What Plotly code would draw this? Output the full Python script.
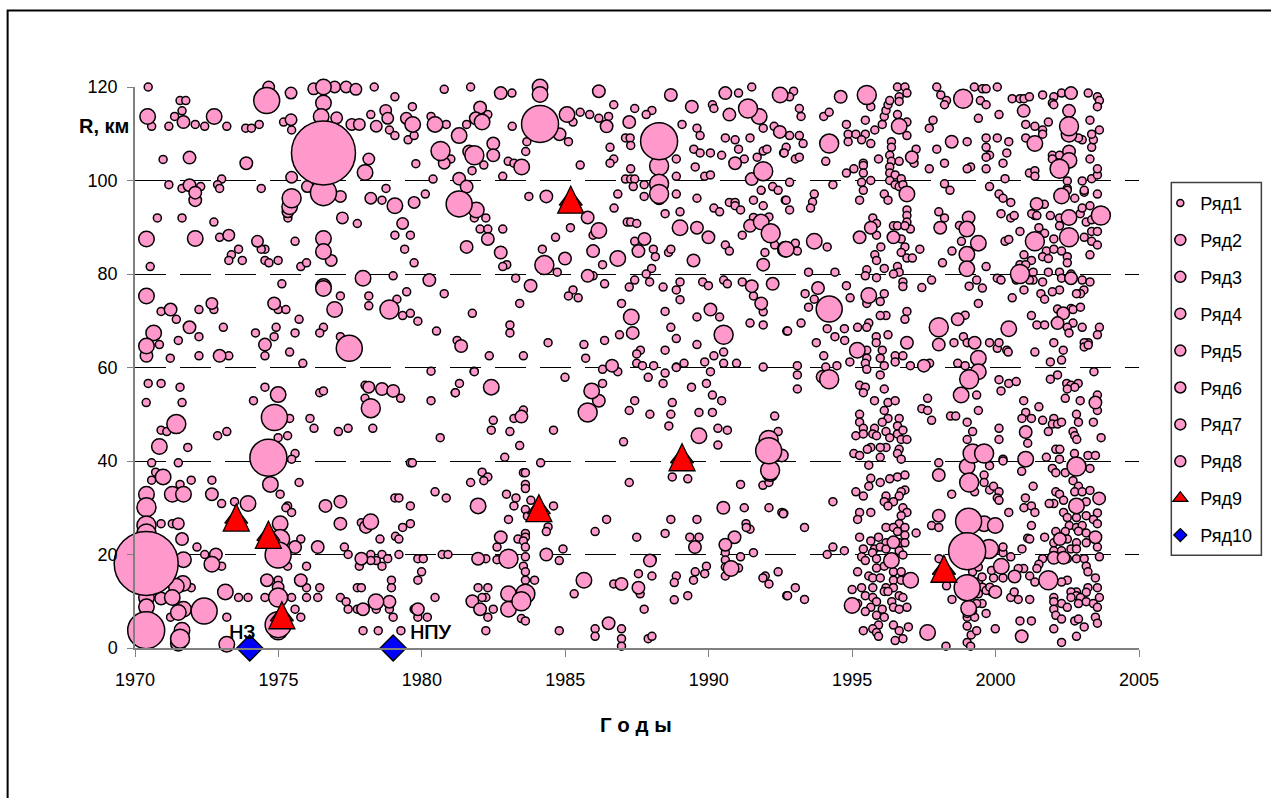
import plotly.graph_objects as go

# (year, R km)
ryad1 = [
(1970.46,120),(1970.58,111.6),(1971.18,111.6),(1971.38,113.7),(1971.57,117.1),(1971.77,117.1),(1971.64,114.9),(1972.10,112),(1972.43,111.6),(1973.2,111.6),(1973.86,111.2),(1974.06,111.2),(1974.33,112),(1975.18,112.5),(1975.46,110.8),(1979.06,117.9),(1978.34,120),(1980.78,119.5),(1979.67,115.8),(1978.22,114.1),(1978.87,110.8),(1979.06,109.6),(1979.52,108.7),(1979.73,109.6),(1980.32,113.7),(1980.85,112),(1969.99,103.6),(1970.98,104.5),(1979.79,103.6),(1971.18,99.1),(1971.64,98.3),(1972.29,98.7),(1973.02,100.3),(1972.88,99.1),(1972.95,98.3),(1974.4,98.3),(1978.75,98.3),(1978.61,95.8),(1980.39,100.3),(1980.12,97.1),(1970.78,92),(1971.64,92),(1972.75,91.1),(1975.33,92),(1977.75,90.8),(1972.95,87.85),(1979.06,88.3),(1979.6,88.3),(1973.61,85.3),(1973.36,84.1),(1974.53,85.3),(1974.4,85.3),(1975.58,87),(1979.4,85.3),(1973.27,82.9),(1973.74,82.9),(1974.53,82.9),(1974.67,82.4),(1974.99,82.9),(1975.78,81.6),(1975.98,82.4),(1970.53,81.6),(1979.73,82.4),(1979.0,79.6),(1975.12,77.9),(1977.16,75.3),(1978.15,75.3),(1978.15,73.2),(1979.47,76.2),(1979.13,74.6),(1980.78,75.8),(1970.91,72),(1971.44,70.3),(1972.23,72.4),(1972.75,72.4),(1974.99,72.4),(1975.26,72.4),(1975.72,70.3),(1979.33,71.1),(1979.6,71.6),(1979.86,69.9),(1980.51,67.8),(1973.08,68.6),(1974.92,68.6),(1976.57,68.6),(1974.2,67.4),(1975.58,67.4),(1976.44,67.4),(1974.85,66.6),(1972.23,66.6),(1971.51,65.8),(1970.85,64.9),(1977.16,66.6),(1971.23,62),(1972.23,62.5),(1973.27,62.5),(1974.53,62.5),(1975.39,63.3),(1975.85,60.9),(1980.32,59.2),
(1970.46,56.6),(1970.91,56.6),(1971.57,55.8),(1974.53,55.8),(1970.39,52.5),(1971.64,52.5),(1974.13,52.9),(1976.44,54.6),(1976.57,55),(1978.02,56.2),(1981.16,54.6),(1978.02,53.4),(1979.26,53.4),(1980.32,52.9),(1976.1,49.1),(1975.39,49.1),(1970.91,46.6),(1971.11,46.3),(1972.88,45.4),(1973.2,46.3),(1976.24,47),(1977.09,46.3),(1977.43,47),(1978.29,47),(1980.64,45),(1974.99,45),(1975.32,45.4),(1971.84,42.9),(1975.58,41.6),(1975.46,40.4),(1970.58,39.6),(1971.51,39.6),(1979.6,39.6),(1979.67,39.6),(1970.72,37.6),(1970.58,35.9),(1971.96,35.9),(1972.68,35.9),(1975.72,35.4),(1971.57,35),(1969.99,33.8),(1975.06,32.9),(1980.46,33.4),(1980.85,32.1),(1979.06,32.1),(1979.2,32.1),(1973.02,30.9),(1973.47,31.3),(1975.32,30.4),(1975.26,30),(1979.6,30.4),(1975.46,29),(1970.91,26.6),(1971.3,26.6),(1977.89,26.8),(1979.6,26.6),(1979.33,25.8),(1979.08,23.9),(1979.2,23.3),(1978.54,23.3),(1977.3,21.6),(1975.78,23.3),(1972.16,21.6),(1977.43,20),(1979.2,20),(1979.86,19.1),(1980.05,19.1),(1980.71,20),(1980.91,20),(1972.43,20),(1978.22,20),(1978.61,20),(1978.81,19.1),(1978.41,18.7),(1978.22,18.7),(1977.82,17.5),(1978.61,17.5),(1973.02,17.5),(1975.32,17.5),(1975.98,17.5),(1979.99,16.3),(1979.86,14.5),(1978.94,14.5),(1974.99,14.5),(1978.94,12.9),(1975.98,12.9),(1976.44,12.9),(1977.75,12.9),(1977.89,12.9),(1971.96,12.9),(1973.61,10.8),(1973.94,10.8),(1974.53,10.8),(1975.46,10.8),(1975.98,10.8),(1976.37,10.8),(1977.16,10.8),(1980.46,10.8),(1977.36,9.9),(1977.43,8.3),(1977.75,8.3),(1975.58,8.3),(1978.41,8.3),(1978.87,8.3),(1979.73,8.3),(1975.78,6.6),(1973.2,6.6),(1971.24,6.6),(1979.86,6.6),(1980.19,6.6),(1979,6.6),(1977.95,3.7),(1978.48,3.7),(1979.27,3.7),(1970.4,0.6),
(1981.7,120),(1983.14,118.7),(1986.69,116.2),(1987.42,115.4),(1988.02,115),(1987.82,114.1),(1985.52,114.6),(1985.85,114.1),(1986.17,113.3),(1986.51,113.7),(1985.27,112.5),(1983.15,111.6),(1981.56,112),(1982.3,114.1),(1991.5,120),(1991.04,118.7),(1990.13,116.2),(1990.18,115.4),(1989.07,112),(1989.59,111.2),(1989.7,109.6),(1990.58,109.1),(1990.92,108.7),(1991.44,109.1),(1991.9,111.2),(1992.28,111.6),(1987.1,109.1),(1987.26,109.1),(1987.28,107.5),(1986.56,107.1),(1989.48,106.7),(1989.7,105.9),(1990.06,105.9),(1990.45,105.4),(1991.04,106.7),(1991.69,105),(1991.9,106.3),(1992.03,106.7),(1992.61,105.9),(1988.87,104.6),(1991.24,104.6),(1989.53,102.9),(1986.69,104.6),(1986.56,103.7),(1985.52,103.3),(1985.11,108.3),(1983.62,106.2),(1983.66,108.3),(1983.01,104.1),(1983.21,103.7),(1982.16,103.3),(1981.75,102.1),(1981.01,104.6),(1982.82,100.9),(1987.28,102.5),(1987.1,100.3),(1987.28,100.3),(1987.42,100.3),(1988.87,100.9),(1989.86,100.9),(1990.06,101.2),(1987.75,99.1),(1987.37,98.7),(1987.75,96.6),(1986.83,97.1),(1988.87,97.1),(1989.59,96.2),(1983.73,96.6),(1992.23,98.7),(1991.83,97.9),(1992.42,97.9),(1991.56,95.8),(1992.67,95.8),(1986.7,94.1),(1988.48,92.9),(1989,93.3),(1990.18,94.1),(1990.38,93.3),(1990.72,95.3),(1990.92,95.3),(1990.92,94.6),(1991.11,93.7),(1991.9,94.6),(1992.1,92.2),(1991.56,92.1),(1982.23,92),(1981.83,92),(1982.03,89.6),(1982.3,89.6),(1982.82,89.6),(1985.18,89.9),(1987.16,91.1),(1987.28,91.1),(1987.49,90.8),(1984.66,87.85),(1985.97,88.3),(1991.17,88.3),(1987.42,87),(1984.2,85.3),(1988.07,85.3),(1988.6,84.6),(1988.68,85.3),(1988.14,83.7),(1990.58,86.2),(1990.72,84.9),(1991.96,84.6),(1992.3,86.2),(1986.3,82),(1982.96,82),(1982.82,81.6),(1988.01,81.2),(1987.82,80),(1984.72,80.4),(1985.97,79.6),(1983.27,79.1),(1986.37,77.9),(1987.42,78.7),(1987.94,78.3),(1987.23,77.2),(1988.41,77.2),(1989,78.3),(1988.87,76.6),(1989,74.5),(1989.79,78.3),(1989.99,77.5),(1990.52,78.7),(1990.65,77.9),(1991.17,78.3),(1991.56,75.3),(1985.27,76.6),(1985.11,75.3),(1985.45,74.9),(1983.41,73.7),(1986.96,73.7),(1988.48,72),(1991.9,71.9),(1981.76,71.6),(1989.59,70.8),(1990.38,70.8),(1983.07,69.1),(1983.07,67.4),(1988.68,68.6),(1991.44,69.5),(1991.9,69.1),(1992.72,67.8),(1986.89,67),(1988.87,66.2),(1981.23,65.8),(1984.4,65.3),(1985.65,64.9),(1986.37,65.8),(1989.59,64.9),(1988.48,63.7),(1987.62,63.7),(1987.49,62.9),(1990.52,63.3),(1990.18,62.5),(1982.35,62.5),(1983.54,62.5),(1985.71,62),(1989.86,61.2),(1990.52,60.9),(1990.97,60.9),(1989.14,60.9),(1988.87,60.1),(1988.08,60.4),(1987.49,60.9),(1987.69,60.4),(1991.9,60.1),(1986.3,59.6),(1981.82,59.2),
(1981.83,59.1),(1981.31,56.6),(1981.17,54.6),(1984.99,57.9),(1986.3,56.6),(1986.83,59.1),(1987.89,57.9),(1988.41,56.6),(1988.48,58.8),(1988.87,60),(1990.06,59.1),(1989.4,55.8),(1989.92,56.6),(1990.13,54.1),(1990.45,52.9),(1987.42,52.9),(1987.23,50.8),(1987.95,50),(1988.73,52.5),(1988.68,50),(1989.66,50.4),(1990.13,50.4),(1988.61,47.5),(1990.32,47),(1990.65,46.6),(1992.3,49.6),(1992.42,46.3),(1990.32,43.4),(1987.03,44.1),(1982.49,48.7),(1983.21,49.1),(1983.54,50.9),(1982.42,46.6),(1983.07,46.3),(1984.59,46.6),(1983.41,43.3),(1982.89,40.8),(1984.14,39.6),(1982.1,37.6),(1982.3,36.6),(1982.16,35.8),(1981.7,35.4),(1983.54,37.5),(1983.61,37.5),(1983.61,35),(1983.61,34.1),(1987.23,35.4),(1988.73,36.6),(1989.27,36.2),(1991.11,35),(1991.89,34.8),(1992.1,35.4),(1982.95,32.9),(1983.28,32.1),(1983.8,31.6),(1983.21,30.4),(1983.61,29.6),(1984.59,30.4),(1983.68,28.2),(1983.02,27.5),(1991.24,30),(1992.1,30),(1992.55,29),(1992.62,28.8),(1986.44,27.5),(1988.68,27.5),(1989.59,27.5),(1984.4,25.9),(1984.34,24.9),(1986.04,24.9),(1983.61,24.5),(1988.48,24.5),(1987.49,23.7),(1989.34,23.7),(1989.66,23.7),(1991.3,26.6),(1991.44,25.4),(1991.31,25.8),(1983.61,23.7),(1983.35,23.3),(1983.54,22.9),(1982.62,21.6),(1983.61,21.6),(1984.92,21.2),(1982.23,19.1),(1982.62,18.9),(1983.61,19.5),(1984.79,18.7),(1983.54,17.5),(1983.61,16.3),(1983.61,14.5),(1983.93,14.5),(1991.56,20.4),(1991.11,19.5),(1990.58,20.4),(1990.58,18.8),(1990.58,17.3),(1990.58,15.4),(1991.04,17.1),(1989.92,17.5),(1989.86,15.9),(1989.53,16.3),(1989.47,14.5),(1988.87,15.4),(1988.8,14),(1987.55,15.9),(1988.02,15.4),(1988.03,19),(1986.69,13.7),(1985.31,11.6),(1987.61,11.6),(1988.8,10.3),(1989.27,11.2),(1987.75,8.3),(1991.97,15.4),(1991.89,15),(1992.1,13.7),(1992.42,16.3),(1992.72,11.2),(1981.96,12.9),(1982.3,12.9),(1982.23,10.8),(1982.1,10.8),(1982.49,8.3),(1982.3,6.6),(1982.23,3.7),(1983.47,6.3),(1983.61,5.8),(1984.79,3.7),(1986.04,4.1),(1986.04,2.5),(1986.96,4.1),(1986.96,2),(1986.96,0.4),(1987.89,2),(1988.02,2.5),
(1992.96,119.1),(1992.82,117.9),(1993.16,115.4),(1993.22,113.7),(1994.01,113.7),(1994.2,114.6),(1995.65,115.8),(1995.46,112.9),(1994.8,112),(1992.82,109.6),(1993.16,109.6),(1993.29,107.9),(1992.7,107.1),(1992.63,105.9),(1993.02,104.6),(1993.16,105),(1994.08,104.1),(1994.86,109.9),(1995.13,109.9),(1995.46,109.9),(1994.86,108.3),(1995.33,108.7),(1995.65,107.9),(1995.79,110.8),(1996.05,112),(1996.12,113.7),(1996.18,115),(1996.25,116.2),(1996.31,117.1),(1996.58,120),(1996.84,120),(1996.91,118.7),(1996.64,117.9),(1996.64,116.9),(1996.58,114.1),(1996.91,112.5),(1996.91,109.6),(1996.37,108.3),(1996.37,107.1),(1996.31,105.4),(1996.37,104.1),(1996.64,104.1),(1995.92,104.6),(1997.23,106.7),(1997.16,103.7),(1995.39,103.7),(1995.39,103.2),(1995.06,102.5),(1994.8,101.6),(1995.39,101.6),(1995.65,100),(1996.31,102.9),(1996.31,101.6),(1996.5,101.2),(1996.71,100.4),(1996.31,100),(1995.33,99.6),(1994.33,99.1),(1992.82,99.6),(1996.5,99.1),(1996.64,98.7),(1996.77,99.1),(1995.39,97.9),(1996.12,97.1),(1996.25,95.8),(1995.26,95.8),(1993.68,97.1),(1992.7,95.8),(1993.62,95.4),(1993.55,94.1),(1992.82,93.7),(1996.91,93.7),(1996.91,92.5),(1996.91,91.1),(1997.03,89.6),(1995.72,92),(1995.85,90.8),(1995.85,88.3),(1996.44,90.3),(1996.58,90.3),(1996.84,90.3),(1996.71,87.5),(1996.84,85.8),(1996.71,84.6),(1996,85.8),(1997.36,85.3),(1996.91,83.4),(1997.1,83.4),(1995.79,84.1),(1995.85,82.9),(1996.12,81.2),(1996.58,81.6),(1996.64,80.4),(1996.44,80),(1995.51,80.9),(1995.46,79.6),(1995.85,79.2),(1993.48,80.4),(1994.4,80.4),(1993.02,86.6),(1993.09,84.9),(1994.13,85.8),(1994.8,77.5),(1993.36,75.8),(1993.68,74.6),(1993.48,72.9),(1994.93,74.9),(1996.12,75.8),(1995.98,74.1),(1995.51,73.7),(1996.77,78.3),(1996.77,77.3),(1997.43,77.1),(1997.77,78.7),(1996.91,72),(1996.84,70.3),(1996.18,71.1),(1995.98,71.1),(1995.58,69.5),(1995.51,68.6),(1995.19,68.6),(1994.73,68.3),(1993.22,69.5),(1992.75,67.8),(1994.13,68.3),(1994.74,65.8),(1994.4,66.6),(1993.75,65.3),(1994.01,62.5),(1996.25,67),(1995.84,66.6),(1995.84,65.3),(1996.05,63.7),(1995.51,63.7),(1995.51,62),(1995.46,60.9),(1995.98,62),(1996.12,60.4),(1996.5,62.5),(1996.77,62.5),(1996.5,61.2),(1994.92,61.2),(1994.47,60.4),(1994.08,60.1),(1993.09,60.4),(1997.03,60.4),(1997.7,60.9),
(1997.95,120),(1998.09,118.3),(1998.29,117.1),(1998.22,116.2),(1997.82,112.9),(1997.69,111.2),(1997.95,106.7),(1998.22,103.7),(1997.69,102.5),(1998.22,99.3),(1998.41,97.9),(1998.02,93.3),(1998.22,92),(1998.74,90.4),(1998.81,87),(1998.48,84.9),(1998.15,82.4),(1999.67,81.6),(1999.34,78.7),(1999.08,77.4),(1999.54,77),(1999.4,73.7),(1998.94,71.2),(1998.55,65.3),(1998.88,66.6),(1999.01,65.3),(1999.79,65.3),(2000.06,64.1),(2000.39,63.7),(2000.44,63.3),(2000.12,65.3),(1998.68,60.9),(1998.94,60.4),(1999.26,120),(1999.54,119.6),(1999.67,119.6),(2000.06,120),(1999.47,117.1),(1999.67,116.2),(2000.12,114.1),(1999.4,113.3),(2000.58,117.5),(2000.85,117.5),(2000.99,117.5),(2001.18,117.9),(2001.64,118.3),(2002.03,117.9),(2001.98,116.6),(2002.03,116.2),(2002.3,118.7),(2003.23,118.7),(2003.55,117.9),(2003.62,117.1),(2003.55,115.8),(2003.29,112.9),(2003.62,110.8),(2001.84,112.5),(2001.05,112),(2001.37,111.6),(2001.64,110.8),(2001.64,109.9),(2001.05,109.1),(2000.46,108.3),(2000.06,109.1),(1999.67,109.1),(1999.01,108.3),(1999.67,107.1),(2000.39,105.9),(1999.79,105.4),(1999.67,105),(2000.26,103.7),(1999.13,102.9),(1999.01,102.5),(1999.67,102.5),(2001.18,101.6),(2001.37,102.1),(2001.37,100.9),(2000.33,100.4),(1999.79,98.7),(2000.12,97.1),(2000.26,96.2),(2000.53,95.3),(2000.19,92.9),(2000.53,92),(2000.65,92.5),(2000.85,89.1),(2000.33,87),(2000.46,87.4),(2000.99,84.1),(2001.25,82.9),(2000.85,82),(2001.05,82),(2001.31,80.4),(2001.31,78.7),(2001.18,78.7),(2000.06,79.1),(2000.19,78.7),(2000.72,78.7),(2001.64,78.3),(2001.84,80.4),(2002.23,80.4),(2002.3,79.1),(2002.63,80),(2003.02,78.7),(2003.29,78.3),(2003.08,76.6),(2002.96,75.8),(2002.82,75.8),(2002.23,76.6),(2001.98,76.2),(2001.58,75.8),(2001.71,74.6),(2000.99,76.6),(2000.58,74.9),(2001.25,71.1),(2002.16,72.5),(2002.63,72.6),(2002.7,72.4),(2002.96,72.9),(2001.44,69.1),(2001.71,69.1),(2002.7,69.5),(2002.5,68.6),(2002.56,67.4),(2003.02,68.6),(2003.62,68.6),(2003.55,67),(2002.03,65.3),(2002.36,63.7),(2001.37,63.3),(2001.91,61.2),(2002.3,61.6),(2003.23,65.3),(2003.09,65.3),(2003.09,64.4),(2003.23,64.8),(2001.91,92.5),(2002.23,92),(2002.23,90.3),(2001.51,89.9),(2001.71,88.7),(2002.03,87.5),(2001.77,84.9),(2001.64,83.7),(2001.84,83.3),(2002.03,85.3),(2002.3,84.9),(2002.5,83.7),(2002.5,82.4),(2003.29,84.1),(2003.09,87.85),(2003.35,87),(2003.55,86.2),(2003.35,89.1),(2003.55,89.1),(2002.95,92.9),(2003.02,94.1),(2003.29,94.6),(2003.16,91.1),(2003.35,91.6),(2002.76,96.2),(2003.09,97.5),(2003.09,97.9),(2003.55,97.1),(2003.02,99.9),(2003.35,100.4),(2003.55,101.2),(2003.55,102.5),(2002.5,99.9),(2002.5,98.3),(2002.5,97.9),(2003.29,104.6),(2003.35,107.1),(2003.41,108.7),(2003.35,109.9),(2003.02,108.7),(2002.89,109.1),(2001.98,105.4),(2002.23,105.4),(2001.98,104.6),(2001.37,92.5),(2001.7,94.9),(2001.26,92.9),(2001.44,92.5),
(1993.09,58.4),(1993.09,55.4),(1995.26,56.2),(1995.46,55.8),(1995.39,54.6),(1996.12,55.4),(1995.51,59.6),(1995.98,58.4),(1995.78,52.9),(1996.25,52.5),(1996.5,52.9),(1996.12,50.8),(1995.26,50),(1995.26,48.3),(1996.25,49.1),(1996.05,48.3),(1996.64,49.1),(1996.58,47.5),(1995.39,47),(1995.78,47),(1995.13,45.4),(1995.39,45.8),(1995.72,45.8),(1995.85,45.4),(1996.18,46.3),(1996.31,45),(1996.58,45.8),(1996.77,46.6),(1996.71,44.6),(1996.91,44.6),(1996.64,42.5),(1996.58,41.6),(1996.71,40.4),(1996.18,42.9),(1995.98,42.9),(1995.65,42.9),(1995.53,42.5),(1995.06,41.6),(1995.26,41.2),(1995.98,40.8),(1995.58,39.1),(1995.65,36.3),(1995.58,34.6),(1995.98,35.4),(1996.31,36.2),(1996.58,36.6),(1996.84,37),(1996.84,33.8),(1996.71,33.4),(1995.13,33.4),(1995.39,32.5),(1996.18,32.5),(1996.64,32.5),(1996.44,31.3),(1996.12,31.3),(1996.25,30.4),(1996.77,30),(1996.91,29),(1996.71,28.3),(1995.26,29),(1995.65,29),(1995.19,27.5),(1996.64,26.6),(1996.18,25.8),(1996.84,25.8),(1996.44,25.8),(1997.23,24.6),(1996.58,24.9),(1996.84,24.1),(1995.92,23.7),(1995.26,23.7),(1995.65,22.9),(1996.18,22.5),(1996.64,22.5),(1996.84,22.5),(1995.39,21.2),(1995.78,21.2),(1995.98,21.6),(1996.18,21.2),(1996.64,20.8),(1995.71,20.4),(1996.77,19.9),(1995.33,19.5),(1995.85,19.1),(1995.46,18.7),(1996.12,17.5),(1995.85,17.1),(1995.19,16.3),(1996.44,16.3),(1996.71,16.3),(1995.58,15.4),(1995.72,15),(1995.98,15),(1996.44,14.5),(1996.71,14.5),(1995,12.5),(1995.33,12.9),(1995.72,12.9),(1996.18,12.9),(1996.44,12.9),(1995.46,11.2),(1995.72,10.8),(1996.12,12.1),(1996.25,12.1),(1996.64,11.2),(1996.77,10.8),(1995.85,9.9),(1996.38,9.9),(1995.19,9.5),(1995.65,8.7),(1996.44,8.7),(1996.91,8.7),(1996.64,8.3),(1995.46,7.8),(1996.05,8.3),(1995.85,7),(1996.12,6.6),(1995.92,4.9),(1996.44,4.9),(1996.96,4.5),(1995.39,3.7),(1995.72,4.1),(1996.64,3.7),(1995.85,3.3),(1995.92,2.5),(1996.77,2),(1996.5,1.6),(1994.13,20),(1994.33,21.6),(1994.73,20.8),(1993.34,25.8),(1994.33,31.3),(1992.6,28.7),(1993.02,12.9),(1992.75,11.2),(1993.34,10.4),
(1997.63,53.4),(1997.43,51.2),(1997.63,50.8),(1997.77,48.7),(1998.43,49.6),(1998.61,49.6),(1999.01,48.3),(1999.2,46.3),(1999.4,50.8),(1999.34,54.1),(1999.01,44.6),(1998.02,39.6),(1998.47,32.9),(1997.77,26.2),(1998.02,25.8),(1998.03,19.1),(1998.29,13.3),(1998.48,10.4),(1998.27,0.4),(1999.01,1.2),(1999.13,0.4),(1999.15,2.8),(1999.01,4.7),(1999.34,3.7),(1999.01,6.6),(1999.27,6.6),(1999.67,7.4),(1999.53,9.5),(1999.86,12),(1999.6,37),(1999.6,35.4),(1999.27,33.4),(1999.79,33.8),(1999.93,34.6),(2000.12,33.4),(2000.06,32.1),(2000.12,31.6),(1999.79,39),(2000.26,40.4),(2000.26,40),(2000.91,37.8),(2000.46,29),(2000.99,30),(2001.25,30.4),(2001.37,29),(2001.04,32.1),(2001.31,34.6),(2001.25,26.2),(2001.12,23.5),(2001.19,23.3),(2000.92,21.2),(2000.12,57.4),(2000.19,55),(2000.46,56.6),(2000.72,57),(2001.91,57.5),(2002.16,58.4),(2003.43,59.1),(2000.98,52.9),(2001.51,51.6),(2001.05,50.4),(2000.92,49.1),(2001.25,49.1),(2001.64,48.7),(2002.03,49.1),(2001.98,47.9),(2002.16,47.9),(2002.3,48.3),(2001.84,46.3),(2000.12,47),(2000.12,44.6),(2001.12,43.8),(2002.43,53.4),(2002.95,52.9),(2002.82,50),(2002.89,48.3),(2003.41,48.3),(2003.55,54.1),(2003.55,50.8),(2002.48,56.6),(2002.63,56.2),(2002.88,56.6),(2002.76,55.8),(2002.5,55.4),(2002.7,46.3),(2002.76,45.4),(2002.83,44.6),(2003.68,45),(2002.1,42.5),(2002.24,42.5),(2001.77,40.8),(2002.23,40.4),(2002.75,41.6),(2003.22,41.2),(2003.48,41.2),(2001.98,38.4),(2002.1,37.5),(2002.43,37.5),(2003.29,38.4),(2002.7,35.8),(2002.89,34.6),(2002.76,33.4),(2003.02,33.4),(2003.29,33.7),(2002.1,33.4),(2002.23,32.9),(2002.37,31.6),(2002.03,30.9),(2001.87,30.9),(2003.16,31.3),(2002.37,29),(2002.5,27.9),(2002.82,27.9),(2003.16,28.3),(2003.55,28.9),(2003.41,27.5),(2003.55,26.6),(2002.57,26.2),(2002.82,25.8),(2003.02,26.2),(2002.1,24.9),(2002.43,24.9),(2002.89,25),(2003.16,24.6),(2001.71,23.7),(2002.03,22.5),(2002.5,23.3),(2002.82,22.5),(2003.16,22.5),(2003.55,21.6),(2002.63,21.2),(2002.82,21.2),(2002.03,20.8),(2002.3,20.8),(2002.5,19.1),(2002.82,19.1),(2003.09,19.1),(2003.62,19.5),(2001.64,19.1),(2001.51,17.9),(2001.44,17),(2003.16,17.5),(2003.22,16.3),(2003.48,15),(2000.98,17),(2000.79,17),(2001.19,15.4),(2001.37,14.1),(2002.5,14.5),(2002.3,14.1),(2003.22,12.9),(2003.55,12.9),(2003.16,11.9),(2002.82,12),(2002.63,12),(2002.03,10.8),(2002.82,11.2),(2002.63,10.8),(2002.96,10.8),(2003.16,9.9),(2003.62,10.8),(2003.41,9.5),(2002.3,9.5),(2002.03,9.9),(2002.5,8.7),(2002.03,8.3),(2002.89,9.5),(2003.55,8.7),(2002.1,7),(2002.3,6.2),(2003.48,6.6),(2002.76,5.8),(2002.89,6.2),(2003.55,5.3),(2003.09,4.5),(2002.03,4.1),(2002.82,2.5),(2002.3,1.2),(2000.85,5.8),(2001.25,5.8),(1999.99,4.1),(2000.79,10.4),(2001.19,10.4),(2000.53,10.8),(2000.65,12),(2000.26,15),(1999.93,15),(2000.53,19.5),(2000.26,20.4),(2000.26,21.6),(1999.4,14.1),(1999.54,13),(1999.67,12.3),(1999.4,11.6),(1999.8,13),(1999.2,8),(1999.01,7.4),(1999.34,9.5),(1999.53,15.2),(1999.86,16.6),(1999.2,16.3),(1999.4,17.3),
]
ryad2 = [
(1975.44,118.7),(1974.66,120),(1975.44,113),(1976.23,119.6),(1976.96,120),(1977.36,120),(1977.7,119.5),(1977.03,113.4),(1977.56,112),(1977.82,112),(1978.41,111.6),(1978.74,115),(1978.81,113.3),(1979.46,113.3),(1981.25,109.6),(1978.15,104.6),(1975.46,100.7),(1976.01,98.7),(1977.16,96.6),(1978.22,96.2),(1979.73,95.3),(1977.23,92),(1979.33,90.8),(1976.84,82.9),(1974.27,87),(1973.27,88.3),(1980.78,103.7),(1975.33,93.3),(1972.68,73.7),(1978.15,55.8),(1971.51,26.6),(1974.99,13),
]
ryad3 = [
(1973.88,103.7),(1971.9,104.9),(1971.9,99),(1972.1,95.8),(1972.1,97.4),(1972.95,62.5),(1974.53,64.9),(1971.9,68.6),(1974.85,73.7),(1971.24,72.4),(1980.26,78.7),(1971.69,112.5),(1970.4,62.5),
(1978.61,55.4),(1979,55),(1972.68,32.9),(1976.64,30.4),(1977.16,31.3),(1977.16,26.6),(1978.05,25.9),(1971.64,23.3),(1975.58,21.6),(1976.37,21.6),(1972.82,20),(1977.89,19.1),(1974.6,14.5),(1975.78,14.5),(1970.91,10.6),(1970.4,7.9),(1978.87,9.9),(1977.95,8.3),(1979.86,8.3),
(1982.75,118.7),(1986.17,119.1),(1988.68,118.3),(1990.58,118.7),(1989.41,115.8),(1990.72,114.1),(1987.23,112.5),(1986.44,111.6),(1982.03,115.6),(1981.88,113.3),(1982.49,107.9),(1981.65,106.2),(1982.49,105.4),(1984.8,109.9),(1988.27,96.2),(1992.48,110.4),(1990.92,103.7),(1991.5,100.3),(1981.3,100.4),(1981.56,98.7),(1984.34,96.6),(1985.78,92.1),(1982.3,87.5),(1981.56,85.8),(1982.75,84.6),(1987.76,87.5),(1987.55,84.9),(1985.97,84.9),(1984.99,83.3),(1985.78,79.6),(1989.59,89.9),(1989.99,87.85),(1989.47,82.9),(1991.44,90.3),(1991.9,82),(1991.5,77.4),(1992.23,77.9),(1991.83,73.7),(1983.79,77.5),(1981.37,64.6),(1987.35,67.4),(1990.06,72.4),(1986.63,60.4),
(1986.17,52.9),(1983.47,49.5),(1982.75,23.7),(1984.34,20),(1981.96,19.1),(1981.76,10),(1982.03,8.3),(1986.96,13.7),(1987.55,12.9),(1986.51,5.3),(1987.95,18.7),(1989.52,21.6),(1990.51,30),(1990.9,23.7),(1990.58,22.1),(1992.55,41.2),
(1994.6,117.9),(1997.08,105),(1998.47,108.3),(2000.98,114.9),(2002.56,114.9),(2002.63,118.7),(2002.56,106.2),(2001.43,95),(1999.06,92.1),(1998.07,89.9),(1995.65,89.9),(1995.26,87.85),(1996.44,87.85),(2002.63,79.1),(1993.81,77),(2002.36,71.6),(2002.16,69.5),(1998.68,70.3),(1998.02,64.9),(1996.91,65.3),(1999.27,65.3),(1997.5,60.4),
(1993.97,58),(2003.48,52.5),(1996.44,22.6),(2000.91,2.5),(1998.02,37),(1998.02,28.3),(2001.05,46.2),(2003.61,32),(2002.24,23.3),(2003.48,23.7),(2002.03,19.3),(2002.37,19.3),(2000.66,15.3),(1999.99,12),
]
ryad4 = [
(1976.57,77.3),(1976.57,76.9),(1972.76,113.7),(1970.44,113.7),(1976.57,116.6),(1976.57,120),(1976.49,113.7),(1979.68,112),(1980.46,112),(1978.02,101.7),(1975.39,94.4),(1979.06,94.6),(1976.57,87.6),(1970.4,87.5),(1972.1,87.6),(1977.95,79.1),(1970.4,75.3),(1976.96,72.4),(1970.65,67.4),(1970.4,64.6),(1976.57,84.8),
(1974.99,54.2),(1970.85,43.1),(1970.98,36.6),(1974.72,35),(1970.4,32.9),(1971.3,32.9),(1971.69,32.9),(1973.94,30.9),(1978.22,27),(1975.06,26.6),(1972.68,17.9),(1971.69,18.9),(1971.67,13.8),(1971.44,13.2),(1973.15,12),(1971.3,10.8),(1970.4,10.8),(1970.4,8.8),(1978.4,9.9),(1971.69,8.3),(1971.51,7.6),(1971.64,3.8),(1971.51,1),(1973.2,0.8),
(1992.49,118.3),(1991.76,113.7),(1985.06,114.1),(1981.3,109.6),(1982.1,112.5),(1983.48,102.9),(1984.12,120),(1984.12,118.4),(1981.9,93.7),(1986.17,89.3),(1986.83,83.3),(1989,89.9),(1991.83,91.1),(1992.67,85.3),(1987.3,70.8),
(1982.42,55.8),(1985.92,55),(1989.66,45.4),(1981.96,30.4),(1983.02,11.6),(1983.02,8.3),(1985.65,14.5),(1990.78,17),(1992.14,37.3),
(1996.64,111.6),(2001.37,107.9),(2002.56,109.9),(2002.56,104.3),(1996.91,97.1),(2002.3,96.7),(2002.56,92.1),(1999,89.6),(1993.68,87),(1992.7,85.3),(1999.4,86.6),(1999,84.2),(1999,81.1),(1995.58,75.4),(2000.46,68.3),(1995.18,63.7),(1999.4,62),(1999.4,59.1),
(1998.8,54.1),(1996.37,18.7),(1997.04,14.5),(1995,9.1),(1997.63,3.3),(2001.05,40.4),(2002.82,30.4),(2000.2,17.5),(1999.01,38.8),(1999.6,26.6),(1999.99,26.2),(1999.06,8.5),
]
ryad5 = [
(1980.65,106.3),(1975.46,96.2),(1978.87,72.4),(1978.22,51.3),(1971.44,47.9),(1970.4,30.1),(1970.4,26.2),(1970.4,24.5),(1975.06,23.3),(1974.99,10.8),(1974.99,3.8),(1971.57,2),
(1991.37,115.4),(1981.83,105.4),(1988.27,103.1),(1988.27,99.3),(1988.27,97.1),(1991.9,102),(1992.16,88.7),(1984.27,81.9),(1990.52,67),
(1985.78,50.4),(1983.02,19.1),(1983.61,11.6),(1983.47,10),(1992.09,44.5),(1992.14,38),
(1995.51,118.3),(1994.2,107.9),(1998.87,117.5),(2002.56,111.6),(2002.23,102.5),(2003.67,92.5),(2002.56,87.85),(2001.37,87),(2000.85,80),(1998.02,68.6),
(1994.2,57.5),(1999.08,57.5),(2002.82,38.8),(2001.84,14.5),(1999.2,41.6),(1999.6,41.6),(1999.08,35.4),(1999.77,21.2),
]
ryad6 = [
(1974.59,117.1),(1977.47,64.1),(1974.86,49.3),(1976.57,97.4),(1981.3,95.0),(1994.2,72.5),(1992.09,42.2),(1999.06,27.1),(1999.01,12.9),(1972.41,7.9),(1974.99,19.9),(1974.99,5),
]
ryad7 = [
(1974.65,40.7),(1970.39,3.8),(1984.12,112.1),(1988.27,108.4),(1999.01,20.7),
]
ryad8 = [
(1970.39,18.1),(1976.57,105.9),
]
ryad9_year = [1973.53,1974.65,1975.12,1984.08,1985.19,1989.07,1998.2]
ryad9_km = [27.8,24.1,6.9,29.8,95.8,40.7,16.85]
ryad10_year = [1974.0,1979.0]
ryad10_km = [0,0]
ryad10_labels = ["НЗ","НПУ"]

series_names = ["Ряд1","Ряд2","Ряд3","Ряд4","Ряд5","Ряд6","Ряд7","Ряд8"]
circle_series = [ryad1,ryad2,ryad3,ryad4,ryad5,ryad6,ryad7,ryad8]
circle_sizes = [8,11.5,12.5,15.5,19,26,37,64]
legend_sizes = [7,11,11,11,11,11,11,11]
x_ticks = [1970,1975,1980,1985,1990,1995,2000,2005]
y_ticks = [0,20,40,60,80,100,120]

FONT = "Liberation Sans"
PINK = "#FF99CC"
PX0, PX1, PY0, PY1 = 135.3, 1138.7, 647.7, 87.3
W, H = 1271, 798

def px(v): return (v-PX0)/(PX1-PX0)
def py(v): return (PY0-v)/(PY0-PY1)

fig = go.Figure()
for name, pts, size in zip(series_names, circle_series, circle_sizes):
    fig.add_trace(go.Scatter(x=[p[0] for p in pts], y=[p[1] for p in pts], mode="markers",
        name=name, legendgroup=name, showlegend=False, cliponaxis=False,
        marker=dict(size=size, color=PINK, line=dict(color="black", width=1.5), opacity=1)))
fig.add_trace(go.Scatter(x=ryad9_year, y=ryad9_km, mode="markers", name="Ряд9", legendgroup="Ряд9",
    showlegend=False, cliponaxis=False,
    marker=dict(symbol="triangle-up", size=20, color="#FF0000", line=dict(color="black", width=1.3))))
fig.add_trace(go.Scatter(x=ryad10_year, y=ryad10_km, mode="markers", name="Ряд10", legendgroup="Ряд10",
    showlegend=False, cliponaxis=False,
    marker=dict(symbol="diamond", size=20, color="#0000FF", line=dict(color="black", width=1.3))))

# legend entries with the small key sizes of the original
for name, size in zip(series_names, legend_sizes):
    fig.add_trace(go.Scatter(x=[None], y=[None], mode="markers", name=name, legendgroup=name,
        marker=dict(size=size, color=PINK, line=dict(color="black", width=1.5))))
fig.add_trace(go.Scatter(x=[None], y=[None], mode="markers", name="Ряд9", legendgroup="Ряд9",
    marker=dict(symbol="triangle-up", size=13, color="#FF0000", line=dict(color="black", width=1.3))))
fig.add_trace(go.Scatter(x=[None], y=[None], mode="markers", name="Ряд10", legendgroup="Ряд10",
    marker=dict(symbol="diamond", size=10, color="#0000FF", line=dict(color="black", width=1.3))))

shapes = [
    dict(type="path", xref="paper", yref="paper",
         path=f"M {px(8)} {py(805)} L {px(8)} {py(11)} L {px(1275)} {py(11)}",
         line=dict(color="black", width=2), layer="below"),
    dict(type="rect", xref="paper", yref="paper", x0=px(1171), x1=px(1261), y0=py(555), y1=py(182.7),
         fillcolor="white", line=dict(color="#404040", width=1.5), layer="above"),
]
for xv, yv in zip(ryad9_year, ryad9_km):
    shapes.append(dict(type="path", xref="x", yref="y", xsizemode="pixel", ysizemode="pixel",
                       xanchor=xv, yanchor=yv, path="M -13 -13 L 13 -13 L 0 14 Z",
                       fillcolor="#FF0000", line=dict(color="black", width=1.3), layer="above"))

label_shadow = "0.6px 0 0 black"
annotations = [
    dict(x=px(104), y=py(126), xref="paper", yref="paper", xanchor="center", yanchor="middle",
         text="<b>R, км</b>", showarrow=False, font=dict(family=FONT, size=20, color="black")),
    dict(x=px(636), y=py(724), xref="paper", yref="paper", xanchor="center", yanchor="middle",
         text="<b>Г о д ы</b>", showarrow=False, font=dict(family=FONT, size=20.5, color="black")),
    dict(x=ryad10_year[0], y=ryad10_km[0], xref="x", yref="y", text=ryad10_labels[0], showarrow=False,
         xanchor="center", yanchor="middle", xshift=-8, yshift=16,
         font=dict(family=FONT, size=19.5, color="black", shadow=label_shadow)),
    dict(x=ryad10_year[1], y=ryad10_km[1], xref="x", yref="y", text=ryad10_labels[1], showarrow=False,
         xanchor="center", yanchor="middle", xshift=37, yshift=16,
         font=dict(family=FONT, size=19.5, color="black", shadow=label_shadow)),
]

fig.update_layout(
    width=W, height=H, autosize=False, paper_bgcolor="white", plot_bgcolor="white",
    margin=dict(l=PX0, r=W-PX1, t=PY1, b=H-PY0, pad=0, autoexpand=False),
    font=dict(family=FONT, size=18, color="black"),
    shapes=shapes, annotations=annotations,
    legend=dict(x=px(1160), y=py(185), xanchor="left", yanchor="top", bgcolor="rgba(0,0,0,0)",
                borderwidth=0, font=dict(family=FONT, size=18),
                traceorder="grouped", tracegroupgap=10.5, itemsizing="trace"),
    xaxis=dict(range=[1970,2005], tickvals=x_ticks, ticks="outside", ticklen=7, tickcolor="#808080",
               showgrid=False, zeroline=False, showline=True, linecolor="#808080", linewidth=1.5,
               ticklabelstandoff=8, tickfont=dict(family=FONT, size=18)),
    yaxis=dict(range=[0,120], tickvals=y_ticks, ticks="outside", ticklen=6, tickcolor="#808080",
               showgrid=True, gridcolor="black", gridwidth=1, griddash="31px,14px", zeroline=False,
               showline=True, linecolor="#808080", linewidth=1.5, ticklabelstandoff=6,
               tickfont=dict(family=FONT, size=18)),
)

fig.write_html("out.html", config=dict(displayModeBar=False),
               post_script="document.body.style.margin='0';document.body.style.overflow='hidden';")
